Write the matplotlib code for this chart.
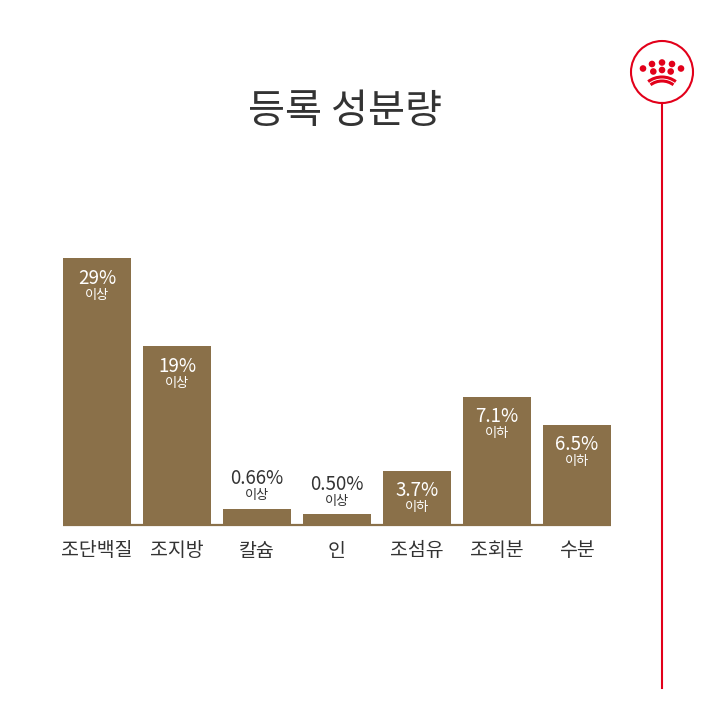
import matplotlib
matplotlib.use('Agg')
import matplotlib.pyplot as plt
from matplotlib.patches import Circle, Arc
import numpy as np

plt.rcParams['font.family'] = ['Noto Sans CJK KR', 'DejaVu Sans']

# data
categories = ['조단백질', '조지방', '칼슘', '인', '조섬유', '조회분', '수분']
bar_heights = [267, 179, 16, 11, 54, 128, 100]   # drawn height of each bar (not to scale with %)
value_labels = ['29%', '19%', '0.66%', '0.50%', '3.7%', '7.1%', '6.5%']
qualifiers = ['이상', '이상', '이상', '이상', '이하', '이하', '이하']
label_inside = [True, True, False, False, True, True, True]

brown = '#8a7049'
red = '#e2001a'
dark = '#333333'

fig = plt.figure(figsize=(7.2, 7.2), dpi=100)
fig.patch.set_facecolor('white')

# bar chart axes: baseline at 525px from top, 1 unit = 1px vertically
ax = fig.add_axes([57 / 720, 1 - 525 / 720, 560 / 720, 300 / 720])
x = np.arange(len(categories))
ax.bar(x, bar_heights, width=0.85, color=brown, edgecolor='none')
ax.plot([-0.425, len(x) - 1 + 0.425], [0, 0], color=brown, lw=1.6,
        solid_capstyle='butt', clip_on=False)
ax.set_xlim(-0.5, len(x) - 0.5)
ax.set_ylim(0, 300)
ax.axis('off')

for i, h in enumerate(bar_heights):
    if label_inside[i]:
        y1, y2, c = h - 20, h - 37, 'white'
    else:
        y1, y2, c = h + 30, h + 13, dark
    ax.text(i, y1, value_labels[i], ha='center', va='center', fontsize=13.5,
            color=c, fontweight='light')
    ax.text(i, y2, qualifiers[i], ha='center', va='center', fontsize=9.5,
            color=c, fontweight='light')
    ax.text(i, -26, categories[i], ha='center', va='center', fontsize=14,
            color=dark, fontweight='light')

fig.text(345 / 720, 1 - 112 / 720, '등록 성분량', ha='center', va='center',
         fontsize=29, color=dark, fontweight='light')

# logo overlay in pixel coordinates
ov = fig.add_axes([0, 0, 1, 1])
ov.set_xlim(0, 720)
ov.set_ylim(720, 0)
ov.axis('off')
ov.patch.set_alpha(0)
cx, cy = 662, 72
ov.add_patch(Circle((cx, cy), 31, fill=False, ec=red, lw=1.5))
ov.plot([cx, cx], [cy + 31, 688], color=red, lw=1.5)
dots = [(652, 64), (662, 62.5), (672, 64),
        (643, 68.5), (653.3, 71.5), (662, 70), (670.7, 71.5), (681, 68.5)]
for dx, dy in dots:
    ov.add_patch(Circle((dx, dy), 3.3, color=red, lw=0))
for r in (23, 19):
    ov.add_patch(Arc((cx, 100), 2 * r, 2 * r, theta1=233, theta2=307, color=red, lw=2.2))

fig.savefig('out.png', dpi=100)
